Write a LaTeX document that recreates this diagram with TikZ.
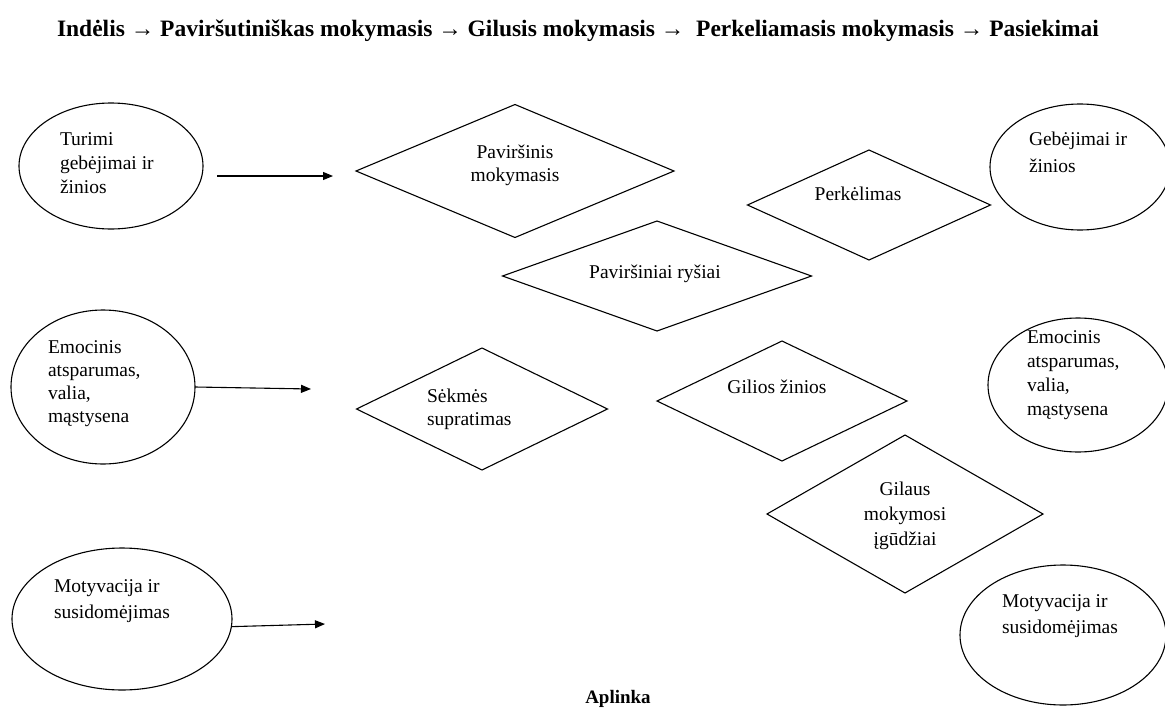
\documentclass[tikz,border=0pt]{standalone}
\usepackage{fontspec}
\setmainfont{Liberation Serif}
\usetikzlibrary{shapes.geometric,arrows.meta}
\begin{document}
\begin{tikzpicture}[x=1pt,y=-1pt,
  every node/.style={inner sep=0pt,outer sep=0pt},
  bubble/.style={draw=black,line width=1.1pt,ellipse},
  rhomb/.style={draw=black,line width=1.1pt,diamond},
  txt/.style={font=\fontsize{19.5}{24}\selectfont,align=left,anchor=base west},
  ctxt/.style={font=\fontsize{19.5}{24}\selectfont,align=center,anchor=base},
  heading/.style={font=\fontsize{19}{23}\selectfont\bfseries,anchor=base},
  arr/.style={draw=black,line width=1.1pt,-{Triangle[length=10pt,width=8pt]}}]
\useasboundingbox (0,0) rectangle (1165,712);

% title line and bottom caption (text nodes anchored at the baseline of their last line)
\node[heading,font=\fontsize{23.5}{27}\selectfont\bfseries] (title) at (578,36) {Indėlis → Paviršutiniškas mokymasis → Gilusis mokymasis →\ \ Perkeliamasis mokymasis → Pasiekimai};
\node[heading] (env) at (618,703) {Aplinka};

% left column: inputs
\node[bubble,minimum width=184pt,minimum height=126pt] (l1) at (111,166) {};
\node[txt] (l1t) at (60,193) {Turimi\\gebėjimai ir\\žinios};
\node[bubble,minimum width=184pt,minimum height=154pt] (l2) at (103,387) {};
\node[txt,font=\fontsize{19.5}{23}\selectfont] (l2t) at (48,422) {Emocinis\\atsparumas,\\valia,\\mąstysena};
\node[bubble,minimum width=220pt,minimum height=142pt] (l3) at (122,619) {};
\node[txt,font=\fontsize{19.5}{26}\selectfont] (l3t) at (54,618) {Motyvacija ir\\susidomėjimas};

% right column: outcomes
\node[bubble,minimum width=180pt,minimum height=126pt] (r1) at (1080,167) {};
\node[txt,font=\fontsize{19.5}{27}\selectfont] (r1t) at (1029,172) {Gebėjimai ir\\žinios};
\node[bubble,minimum width=180pt,minimum height=134pt] (r2) at (1078,385) {};
\node[txt] (r2t) at (1027,415) {Emocinis\\atsparumas,\\valia,\\mąstysena};
\node[bubble,minimum width=206pt,minimum height=140pt] (r3) at (1063,635) {};
\node[txt,font=\fontsize{19.5}{26}\selectfont] (r3t) at (1002,633) {Motyvacija ir\\susidomėjimas};

% learning stages
\node[rhomb,minimum width=318pt,minimum height=133pt] (d1) at (515,171) {};
\node[ctxt,font=\fontsize{19.5}{23}\selectfont] (d1t) at (515,181) {Paviršinis\\mokymasis};
\node[rhomb,minimum width=309pt,minimum height=110pt] (d2) at (657,276) {};
\node[ctxt] (d2t) at (655,278) {Paviršiniai ryšiai};
\node[rhomb,minimum width=243pt,minimum height=110pt] (d3) at (869,205) {};
\node[ctxt] (d3t) at (858,200) {Perkėlimas};
\node[rhomb,minimum width=251pt,minimum height=122pt] (d4) at (482,409) {};
\node[txt,font=\fontsize{19.5}{23}\selectfont] (d4t) at (427,425) {Sėkmės\\supratimas};
\node[rhomb,minimum width=250pt,minimum height=120pt] (d5) at (782,401) {};
\node[ctxt] (d5t) at (777,393) {Gilios žinios};
\node[rhomb,minimum width=276pt,minimum height=158pt] (d6) at (905,514) {};
\node[ctxt,font=\fontsize{19.5}{25}\selectfont] (d6t) at (905,545) {Gilaus\\mokymosi\\įgūdžiai};

% input arrows
\coordinate (a1s) at (217,176);
\coordinate (a1e) at (333,176);
\coordinate (a2e) at (311,389);
\coordinate (a3e) at (325,624);
\draw[arr] (a1s) -- (a1e);
\draw[arr] (l2.east) -- (a2e);
\draw[arr] (l3.-4.7) -- (a3e);
\end{tikzpicture}
\end{document}
